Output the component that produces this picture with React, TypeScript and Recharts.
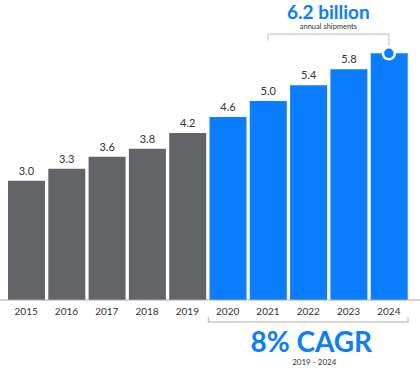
import React from 'react';
import { BarChart, Bar, XAxis, YAxis, Cell, LabelList, ReferenceLine, ReferenceDot } from 'recharts';

// --- data ---
const years = ['2015', '2016', '2017', '2018', '2019', '2020', '2021', '2022', '2023', '2024'];
const shipments = [3.0, 3.3, 3.6, 3.8, 4.2, 4.6, 5.0, 5.4, 5.8, 6.2];
const cagrYears = ['2020', '2024'];
const headlineYears = ['2021', '2024'];

// the last bar gets the headline callout instead of a value label
const data = years.map((year, i) => ({
  year,
  value: shipments[i],
  label: i === years.length - 1 ? null : shipments[i],
}));

const GRAY = '#636467';
const BLUE = '#0b7dff';
const INK = '#333';

const W = 420;
const H = 370;
const PAD_L = 6;
const PAD_R = 11;
const BAND = (W - PAD_L - PAD_R) / years.length;

const FONT = 'Lato, "Open Sans", sans-serif';

// bracket under the forecast years, spans the full bands
const CagrBracket = (props: any) => {
  const { x1, x2, y1 } = props;
  const l = x1 - BAND / 2 + 1;
  const r = x2 + BAND / 2 - 1;
  return (
    <path
      d={`M${l},${y1 - 5} L${l},${y1} L${r},${y1} L${r},${y1 - 5}`}
      fill="none"
      stroke="#c8c8c8"
      strokeWidth={1.5}
    />
  );
};

const CagrLabel = (props: any) => {
  const { x, y, width } = props.viewBox;
  const cx = x + width / 2 + 3;
  return (
    <g fontFamily={FONT}>
      <text x={cx} y={y + 30} textAnchor="middle" fill={BLUE} fontSize={28} fontWeight={700}>
        8% CAGR
      </text>
      <text x={cx + 3} y={y + 43} textAnchor="middle" fill={INK} fontSize={8}>
        2019 - 2024
      </text>
    </g>
  );
};

const HeadlineLabel = (props: any) => {
  const { x, y, width } = props.viewBox;
  const cx = x + width / 2;
  return (
    <g fontFamily={FONT}>
      <text x={cx} y={y - 15} textAnchor="middle" fill={BLUE} fontSize={19} fontWeight={700}>
        6.2 billion
      </text>
      <text x={cx} y={y - 5} textAnchor="middle" fill={INK} fontSize={7.5}>
        annual shipments
      </text>
    </g>
  );
};

export default function App() {
  const last = data[data.length - 1];
  return (
    <div style={{ position: 'absolute', left: 0, top: 0, background: '#fff' }}>
      <BarChart width={W} height={H} data={data} margin={{ top: 0, right: 0, bottom: 40, left: 0 }}>
        <XAxis
          dataKey="year"
          height={30}
          padding={{ left: PAD_L, right: PAD_R }}
          tickLine={false}
          axisLine={{ stroke: '#a8a8a8', strokeWidth: 1 }}
          tick={{ fill: INK, fontSize: 10, fontFamily: FONT }}
          interval={0}
        />
        <YAxis hide domain={[0, 7.54]} />
        <Bar dataKey="value" barSize={37} isAnimationActive={false}>
          {data.map((d) => (
            <Cell key={d.year} fill={d.year >= cagrYears[0] ? BLUE : GRAY} />
          ))}
          <LabelList
            dataKey="label"
            position="top"
            offset={6}
            formatter={(v: any) => (v == null ? '' : Number(v).toFixed(1))}
            style={{ fill: INK, fontSize: 11, fontFamily: FONT }}
          />
        </Bar>
        <ReferenceLine
          ifOverflow="visible"
          segment={[{ x: headlineYears[0], y: 6.68 }, { x: headlineYears[1], y: 6.68 }]}
          stroke="#c8c8c8"
          strokeWidth={1.2}
          label={<HeadlineLabel />}
        />
        <ReferenceLine
          ifOverflow="visible"
          segment={[{ x: headlineYears[0], y: 6.68 }, { x: headlineYears[0], y: 6.52 }]}
          stroke="#c8c8c8"
          strokeWidth={1.2}
        />
        <ReferenceLine
          ifOverflow="visible"
          segment={[{ x: headlineYears[1], y: 6.68 }, { x: headlineYears[1], y: last.value }]}
          stroke="#c8c8c8"
          strokeWidth={1.2}
        />
        <ReferenceDot
          ifOverflow="visible"
          x={last.year}
          y={last.value}
          r={6}
          fill={BLUE}
          stroke="#fff"
          strokeWidth={2.5}
        />
        <ReferenceLine
          ifOverflow="visible"
          segment={[{ x: cagrYears[0], y: -0.55 }, { x: cagrYears[1], y: -0.55 }]}
          shape={<CagrBracket />}
          label={<CagrLabel />}
        />
      </BarChart>
    </div>
  );
}
